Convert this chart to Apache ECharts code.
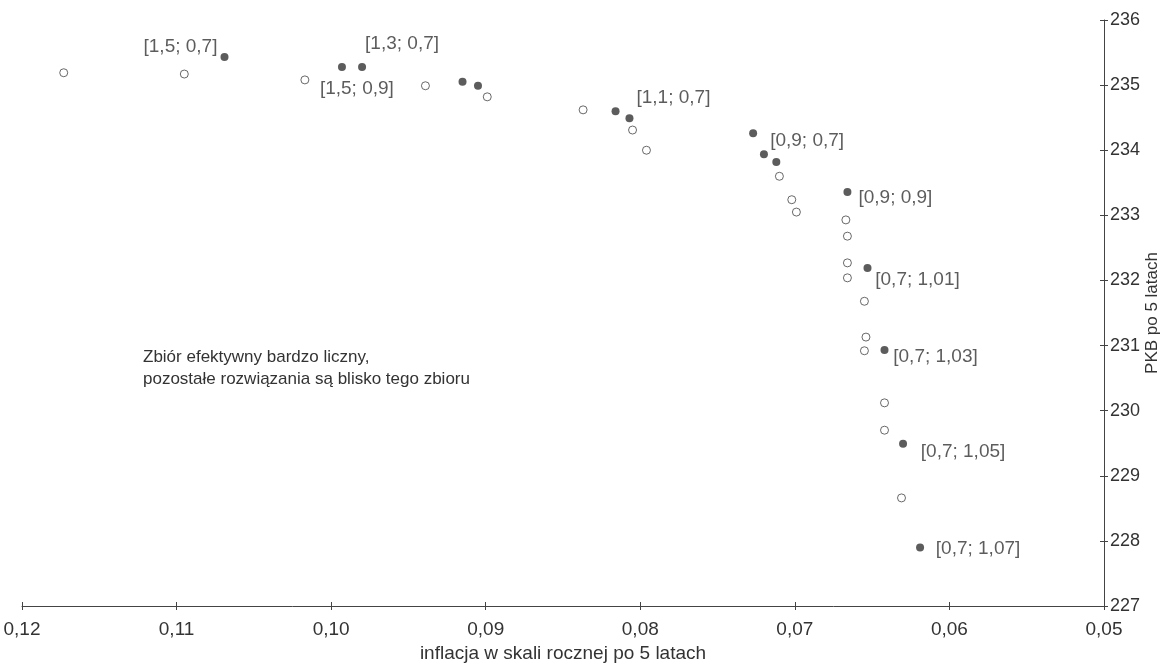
<!DOCTYPE html>
<html>
<head>
<meta charset="utf-8">
<script src="https://cdn.jsdelivr.net/npm/echarts@6/dist/echarts.min.js"></script>
<style>html,body{margin:0;padding:0;background:#fff}#c{width:1172px;height:668px}</style>
</head>
<body>
<div id="c"></div>
<script>
// inflation (x) and GDP (y) of the efficient solutions (filled)
const filledX = [0.1069, 0.0993, 0.0980, 0.0915, 0.0905, 0.0816, 0.0807, 0.0727, 0.0720, 0.0712, 0.0666, 0.0653, 0.0642, 0.0630, 0.0619];
const filledY = [235.43, 235.28, 235.28, 235.05, 234.99, 234.60, 234.49, 234.26, 233.94, 233.82, 233.36, 232.19, 230.93, 229.49, 227.90];
const filledLabels = ['[1,5; 0,7]', '', '[1,3; 0,7]', '', '', '', '[1,1; 0,7]', '[0,9; 0,7]', '', '', '[0,9; 0,9]', '[0,7; 1,01]', '[0,7; 1,03]', '[0,7; 1,05]', '[0,7; 1,07]'];
// other solutions (hollow)
const hollowX = [0.1173, 0.1095, 0.1017, 0.0939, 0.0899, 0.0837, 0.0805, 0.0796, 0.0710, 0.0702, 0.0699, 0.0667, 0.0666, 0.0666, 0.0666, 0.0655, 0.0654, 0.0655, 0.0642, 0.0642, 0.0631];
const hollowY = [235.19, 235.17, 235.08, 234.99, 234.82, 234.62, 234.31, 234.00, 233.60, 233.24, 233.05, 232.93, 232.68, 232.27, 232.04, 231.68, 231.13, 230.92, 230.12, 229.70, 228.66];
const hollowLabels = ['', '', '[1,5; 0,9]', '', '', '', '', '', '', '', '', '', '', '', '', '', '', '', '', '', ''];
const xTicks = [0.05, 0.06, 0.07, 0.08, 0.09, 0.10, 0.11, 0.12];
const yTicks = [227, 228, 229, 230, 231, 232, 233, 234, 235, 236];
const xName = 'inflacja w skali rocznej po 5 latach';
const yName = 'PKB po 5 latach';
const note = 'Zbiór efektywny bardzo liczny,\npozostałe rozwiązania są blisko tego zbioru';

// label placement (pixel offsets of label centre from point), style only
const filledOffsets = {0: [-44, -10], 2: [40, -23], 6: [44, -21], 7: [54, 7], 10: [48, 6], 11: [50, 12], 12: [51, 7], 13: [60, 8], 14: [58, 1]};
const hollowOffsets = {2: [52, 9]};

const FONT = "'Liberation Sans', Arial, sans-serif";
const TXT = '#333';
const AX = '#444';

function build(xs, ys, labels, offsets) {
  return xs.map((x, i) => {
    const item = { value: [x, ys[i]] };
    if (labels[i]) {
      item.label = {
        show: true, formatter: labels[i], position: 'inside',
        offset: offsets[i] || [0, 0], align: 'center', verticalAlign: 'middle',
        color: TXT, fontSize: 19, fontFamily: FONT
      };
    }
    return item;
  });
}

const fmt = v => v.toFixed(2).replace('.', ',');
const xMin = xTicks[0], xMax = xTicks[xTicks.length - 1];
const yMin = yTicks[0], yMax = yTicks[yTicks.length - 1];

const chart = echarts.init(document.getElementById('c'), null, { renderer: 'canvas' });
chart.setOption({
  backgroundColor: '#fff',
  animation: false,
  grid: { left: 22, right: 68, top: 20, bottom: 62, containLabel: false, outerBoundsMode: 'none' },
  xAxis: [{
    type: 'value', min: xMin, max: xMax, interval: 0.01, inverse: true, position: 'bottom',
    name: xName, nameLocation: 'middle', nameGap: 36,
    nameTextStyle: { color: TXT, fontSize: 19, fontFamily: FONT },
    axisLine: { lineStyle: { color: AX, width: 1 } },
    axisTick: { show: true, length: 4, lineStyle: { color: AX } },
    axisLabel: { formatter: fmt, color: TXT, fontSize: 19, fontFamily: FONT, margin: 14 },
    splitLine: { show: false }
  }, {
    type: 'value', min: xMin, max: xMax, interval: 0.01, inverse: true, position: 'bottom',
    axisLine: { show: false },
    axisTick: { show: true, inside: true, length: 4, lineStyle: { color: AX } },
    axisLabel: { show: false }, splitLine: { show: false }
  }],
  yAxis: [{
    type: 'value', min: yMin, max: yMax, interval: 1, position: 'right',
    name: yName, nameLocation: 'middle', nameGap: 40, nameRotate: 90, nameMoveOverlap: false,
    nameTextStyle: { color: TXT, fontSize: 17, fontFamily: FONT },
    axisLine: { show: true, lineStyle: { color: AX, width: 1 } },
    axisTick: { show: true, length: 4, lineStyle: { color: AX } },
    axisLabel: { color: TXT, fontSize: 18, fontFamily: FONT, margin: 6 },
    splitLine: { show: false }
  }, {
    type: 'value', min: yMin, max: yMax, interval: 1, position: 'right',
    axisLine: { show: false },
    axisTick: { show: true, inside: true, length: 4, lineStyle: { color: AX } },
    axisLabel: { show: false }, splitLine: { show: false }
  }],
  graphic: [{
    type: 'text', left: 143, top: 346,
    style: { text: note, fill: TXT, fontSize: 17, fontFamily: FONT, lineHeight: 22 }
  }],
  series: [{
    type: 'scatter', xAxisIndex: 0, yAxisIndex: 0,
    symbol: 'circle', symbolSize: 8,
    itemStyle: { color: '#fff', borderColor: '#444', borderWidth: 1 },
    data: build(hollowX, hollowY, hollowLabels, hollowOffsets)
  }, {
    type: 'scatter', xAxisIndex: 0, yAxisIndex: 0,
    symbol: 'circle', symbolSize: 8,
    itemStyle: { color: '#333' },
    data: build(filledX, filledY, filledLabels, filledOffsets)
  }]
});
</script>
</body>
</html>
